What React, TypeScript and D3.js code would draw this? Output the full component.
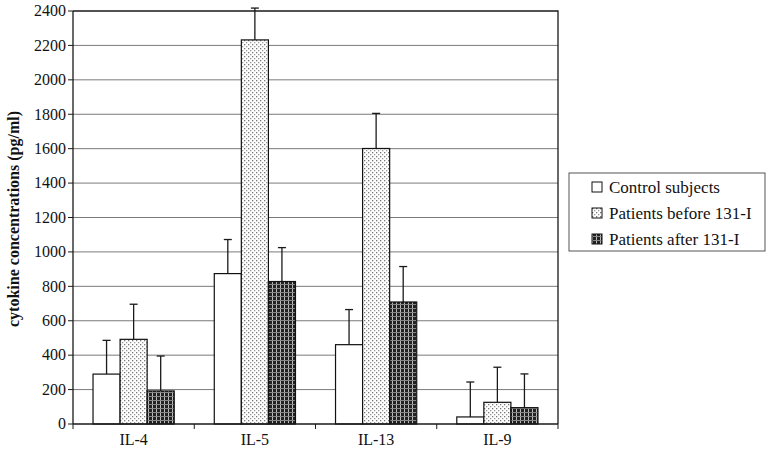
import React from 'react';
import * as d3 from 'd3';

const categories = ['IL-4', 'IL-5', 'IL-13', 'IL-9'];
const seriesNames = ['Control subjects', 'Patients before 131-I', 'Patients after 131-I'];
const control = [290, 874, 461, 41];
const before = [492, 2232, 1601, 126];
const after = [192, 828, 709, 95];
const controlErr = [196, 198, 204, 203];
const beforeErr = [204, 185, 204, 204];
const afterErr = [203, 197, 206, 196];
const yTicks = [0, 200, 400, 600, 800, 1000, 1200, 1400, 1600, 1800, 2000, 2200, 2400];

const width = 767;
const height = 449;
const margin = { top: 11, left: 73, right: 209, bottom: 25 };
const font = "'Liberation Serif', 'Times New Roman', Times, serif";
const ink = '#1a1a1a';

export default function App() {
  const values = [control, before, after];
  const errs = [controlErr, beforeErr, afterErr];
  const fills = ['#fff', 'url(#dots)', 'url(#plaid)'];

  const x0 = d3.scaleBand().domain(categories).range([margin.left, width - margin.right]);
  const x1 = d3.scaleBand().domain(seriesNames).range([0, x0.bandwidth()]).paddingOuter(0.74).paddingInner(0);
  const y = d3.scaleLinear().domain([0, 2400]).range([height - margin.bottom, margin.top]);
  const right = width - margin.right;
  const bw = x1.bandwidth();
  const bounds = categories.map(c => x0(c) as number).concat([right]);

  return (
    <div style={{ position: 'absolute', left: 0, top: 0 }}>
      <svg width={width} height={height} style={{ fontFamily: font, display: 'block' }}>
        <defs>
          <pattern id="dots" patternUnits="userSpaceOnUse" width={4} height={4}>
            <rect width={4} height={4} fill="#fff" />
            <rect x={0} y={0} width={1.3} height={1.3} fill="#777" />
            <rect x={2} y={2} width={1.3} height={1.3} fill="#999" />
          </pattern>
          <pattern id="plaid" patternUnits="userSpaceOnUse" width={4} height={4}>
            <rect width={4} height={4} fill="#222" />
            <rect x={0} width={1} height={4} fill="#bbb" />
            <rect y={0} width={4} height={1} fill="#888" />
          </pattern>
        </defs>

        {/* grid */}
        {yTicks.slice(1, -1).map(t => (
          <line key={t} x1={margin.left} x2={right} y1={y(t)} y2={y(t)} stroke="#7a7a7a" strokeWidth={1} />
        ))}
        <path d={`M${margin.left},${y(2400)}H${right}V${y(0)}`} fill="none" stroke={ink} strokeWidth={1.3} />

        {/* bars with error bars */}
        {seriesNames.map((name, si) => (
          <g key={name}>
            {categories.map((c, ci) => {
              const bx = (x0(c) as number) + (x1(name) as number);
              const v = values[si][ci];
              const top = v + errs[si][ci];
              const cx = bx + bw / 2;
              return (
                <g key={c}>
                  <line x1={cx} x2={cx} y1={y(v)} y2={y(top)} stroke={ink} strokeWidth={1.3} />
                  <line x1={cx - 4} x2={cx + 4} y1={y(top)} y2={y(top)} stroke={ink} strokeWidth={1.3} />
                  <rect x={bx} y={y(v)} width={bw} height={y(0) - y(v)} fill={fills[si]} stroke="#111" strokeWidth={1.2} />
                </g>
              );
            })}
          </g>
        ))}

        {/* y axis */}
        <line x1={margin.left} x2={margin.left} y1={y(0)} y2={y(2400)} stroke={ink} strokeWidth={1.3} />
        {yTicks.map(t => (
          <g key={t} transform={`translate(${margin.left},${y(t)})`}>
            <line x1={-5} x2={0} stroke={ink} />
            <text x={-7} dy="0.33em" textAnchor="end" fontSize={16} fill="#111">{d3.format('d')(t)}</text>
          </g>
        ))}

        {/* x axis */}
        <line x1={margin.left} x2={right} y1={y(0)} y2={y(0)} stroke={ink} strokeWidth={1.3} />
        {bounds.map((b, i) => (
          <line key={i} x1={b} x2={b} y1={y(0)} y2={y(0) + 5} stroke={ink} />
        ))}
        {categories.map(c => (
          <text key={c} x={(x0(c) as number) + x0.bandwidth() / 2} y={y(0) + 21} textAnchor="middle" fontSize={16} fill="#111">{c}</text>
        ))}

        <text transform="translate(19,219) rotate(-90)" textAnchor="middle"
          fontSize={16} fontWeight="bold" fill="#111">cytokine concentrations (pg/ml)</text>

        {/* legend */}
        <rect x={569} y={173} width={196} height={78} fill="#fff" stroke="#555" strokeWidth={1} />
        {seriesNames.map((name, i) => {
          const ly = 187 + i * 26;
          return (
            <g key={name}>
              <rect x={592} y={ly - 5} width={10} height={10} fill={fills[i]} stroke="#111" strokeWidth={1} />
              <text x={609} y={ly} dy="0.35em" fontSize={17} fill="#111">{name}</text>
            </g>
          );
        })}
      </svg>
    </div>
  );
}
